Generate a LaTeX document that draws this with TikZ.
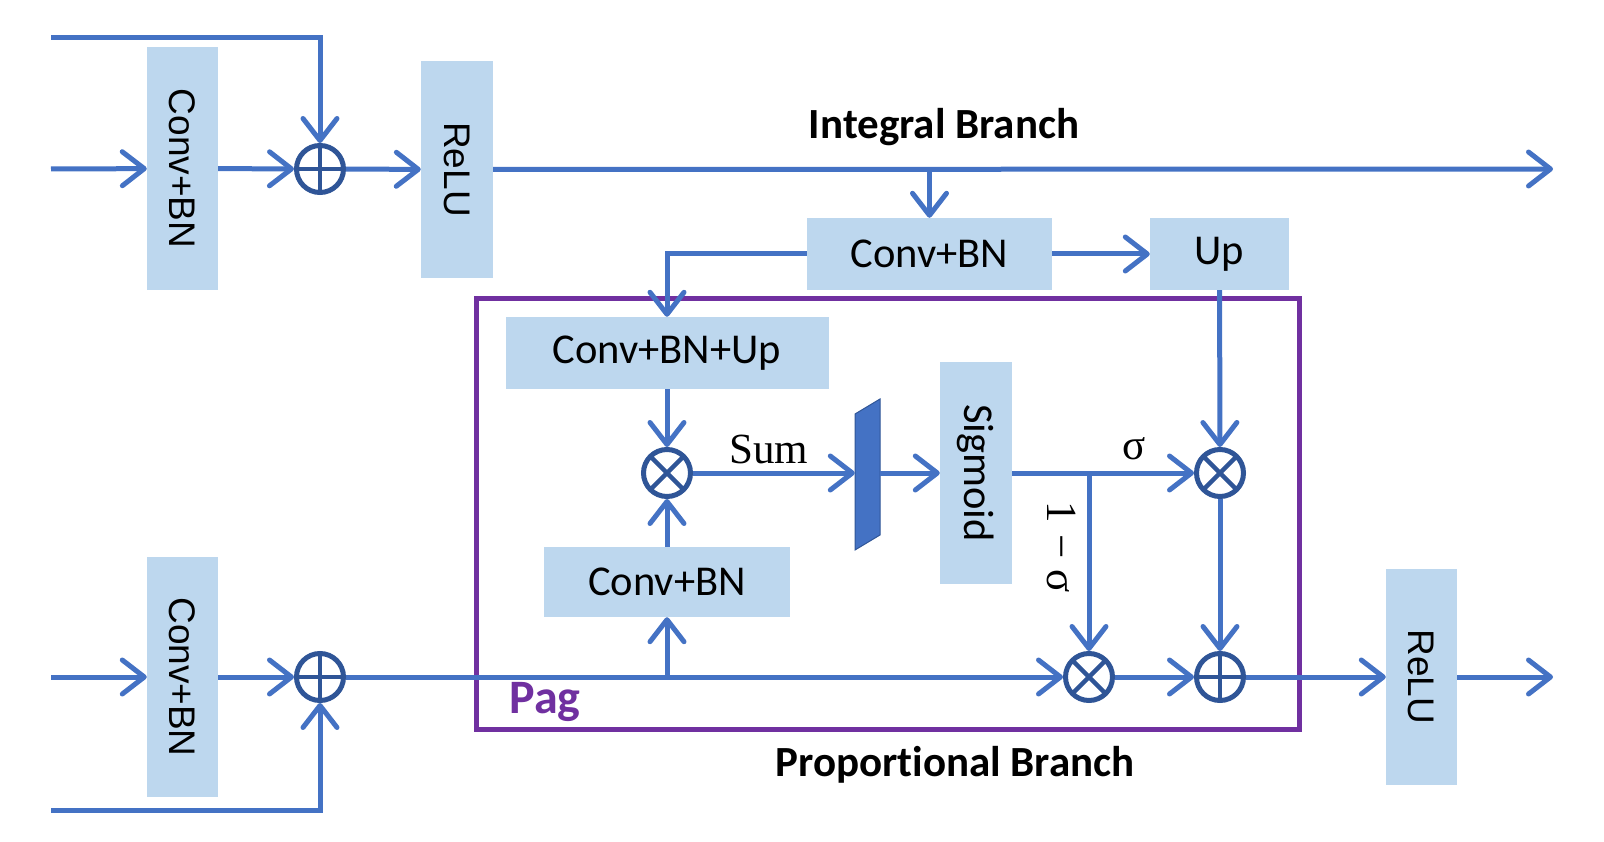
\documentclass[tikz,border=0pt]{standalone}
\usepackage{fontspec}
\usepackage{graphicx}
\setmainfont{Carlito}[Ligatures=NoCommon]
\newfontfamily\arialfont{Liberation Sans}
\newfontfamily\serffont{Liberation Serif}
\usetikzlibrary{arrows.meta}
\definecolor{linkblue}{HTML}{4472C4}
\definecolor{boxblue}{HTML}{BDD7EE}
\definecolor{ringblue}{HTML}{2F5597}
\definecolor{pagpurple}{HTML}{7030A0}
\tikzset{
  blk/.style={fill=boxblue, inner sep=0pt, font=\fontsize{42.5}{50}\selectfont},
  vblk/.style={blk, font=\arialfont\fontsize{37}{44}\selectfont},
  link/.style={draw=linkblue, line width=5pt},
  arr/.style={link, -{Straight Barb[length=22pt,width=34pt,round]}},
  opring/.style={circle, draw=ringblue, line width=5pt, minimum size=47pt, inner sep=0pt},
  addop/.style={opring, path picture={\draw[ringblue,line width=4.5pt] (path picture bounding box.north) -- (path picture bounding box.south) (path picture bounding box.west) -- (path picture bounding box.east);}},
  mulop/.style={opring, path picture={\draw[ringblue,line width=4.5pt] (path picture bounding box.north west) -- (path picture bounding box.south east) (path picture bounding box.south west) -- (path picture bounding box.north east);}},
  brtitle/.style={font=\bfseries\fontsize{43}{50}\selectfont},
  mathlbl/.style={font=\serffont\fontsize{43}{50}\selectfont, inner sep=0pt},
}
\begin{document}
\begin{tikzpicture}[x=1pt,y=-1pt]
\useasboundingbox (0,0) rectangle (1604,842);

% integral branch
\node[vblk, minimum width=71pt, minimum height=243pt] (convA) at (182.5,168.5) {\rotatebox{-90}{Conv+BN}};
\node[addop] (addA) at (320,169) {};
\node[vblk, minimum width=72pt, minimum height=217pt] (reluA) at (457,169.5) {\rotatebox{-90}{ReLU}};
\coordinate (inA) at (51,169);
\coordinate (fbA) at (51,38);
\coordinate (outA) at (1553,169);
\node[brtitle] (intlbl) at (944,127) {Integral Branch};

% pag block
\draw[pagpurple, line width=5pt] (476,299) rectangle (1299,729);
\node[text=pagpurple, font=\bfseries\fontsize{48}{56}\selectfont] (paglbl) at (545,702) {Pag};
\node[blk, minimum width=245pt, minimum height=72pt] (convM) at (929.5,254) {Conv+BN};
\node[blk, minimum width=139pt, minimum height=72pt] (up) at (1219.5,254) {Up};
\node[blk, minimum width=323pt, minimum height=72pt] (cbu) at (667,353) {Conv+BN+Up};
\node[mulop] (mulA) at (667,473) {};
\node[blk, minimum width=246pt, minimum height=70pt] (convL) at (667,582) {Conv+BN};
\fill[linkblue, draw=ringblue, line width=1pt] (855,414) -- (880,399) -- (880,535) -- (855,550) -- cycle;
\node[inner sep=0pt, minimum width=25pt, minimum height=136pt] (gate) at (867.5,474.5) {};
\node[blk, minimum width=72pt, minimum height=222pt] (sig) at (976,473) {\rotatebox{-90}{Sigmoid}};
\node[mulop] (mulB) at (1220,473) {};
\node[mulop] (mulC) at (1089,677) {};
\node[addop] (addC) at (1220,677) {};
\node[mathlbl] (sumlbl) at (769,449) {Sum};
\node[mathlbl] (siglbl) at (1134,449) {σ};
\node[mathlbl] (omlbl) at (1061,547) {\rotatebox{-90}{1 − σ}};

% proportional branch
\node[vblk, minimum width=71pt, minimum height=240pt] (convB) at (182.5,677) {\rotatebox{-90}{Conv+BN}};
\node[addop] (addB) at (320,677) {};
\node[vblk, minimum width=71pt, minimum height=216pt] (reluB) at (1421.5,677) {\rotatebox{-90}{ReLU}};
\coordinate (inB) at (51,677);
\coordinate (fbB) at (51,810);
\coordinate (outB) at (1553,677);
\node[brtitle] (prolbl) at (955,765) {Proportional Branch};

% connectors
\draw[arr] (inA) -- (convA);
\draw[arr] (convA) -- (addA);
\draw[arr] (fbA) -| (addA);
\draw[arr] (addA) -- (reluA);
\draw[arr] (reluA) -- (outA);
\coordinate (tapI) at (convM.north |- outA);
\draw[arr] (tapI) -- (convM);
\draw[arr] (convM) -- (up);
\draw[arr] (convM.west) -| (cbu.north);
\draw[arr] (cbu) -- (mulA);
\draw[arr] (convL) -- (mulA);
\draw[arr] (mulA) -- (gate.west |- mulA);
\draw[arr] (gate.east |- mulA) -- (sig.west |- mulA);
\draw[arr] (sig.east |- mulB) -- (mulB);
\coordinate (tapS) at (mulC |- mulB);
\draw[arr] (tapS) -- (mulC);
\draw[arr] (up) -- (mulB);
\draw[arr] (mulB) -- (addC);
\draw[arr] (mulC) -- (addC);
\draw[arr] (addC) -- (reluB);
\draw[arr] (reluB) -- (outB);
\draw[arr] (inB) -- (convB);
\draw[arr] (convB) -- (addB);
\draw[arr] (fbB) -| (addB);
\draw[arr] (addB) -- (mulC);
\coordinate (tapP) at (convL |- addB);
\draw[arr] (tapP) -- (convL);
\end{tikzpicture}
\end{document}
